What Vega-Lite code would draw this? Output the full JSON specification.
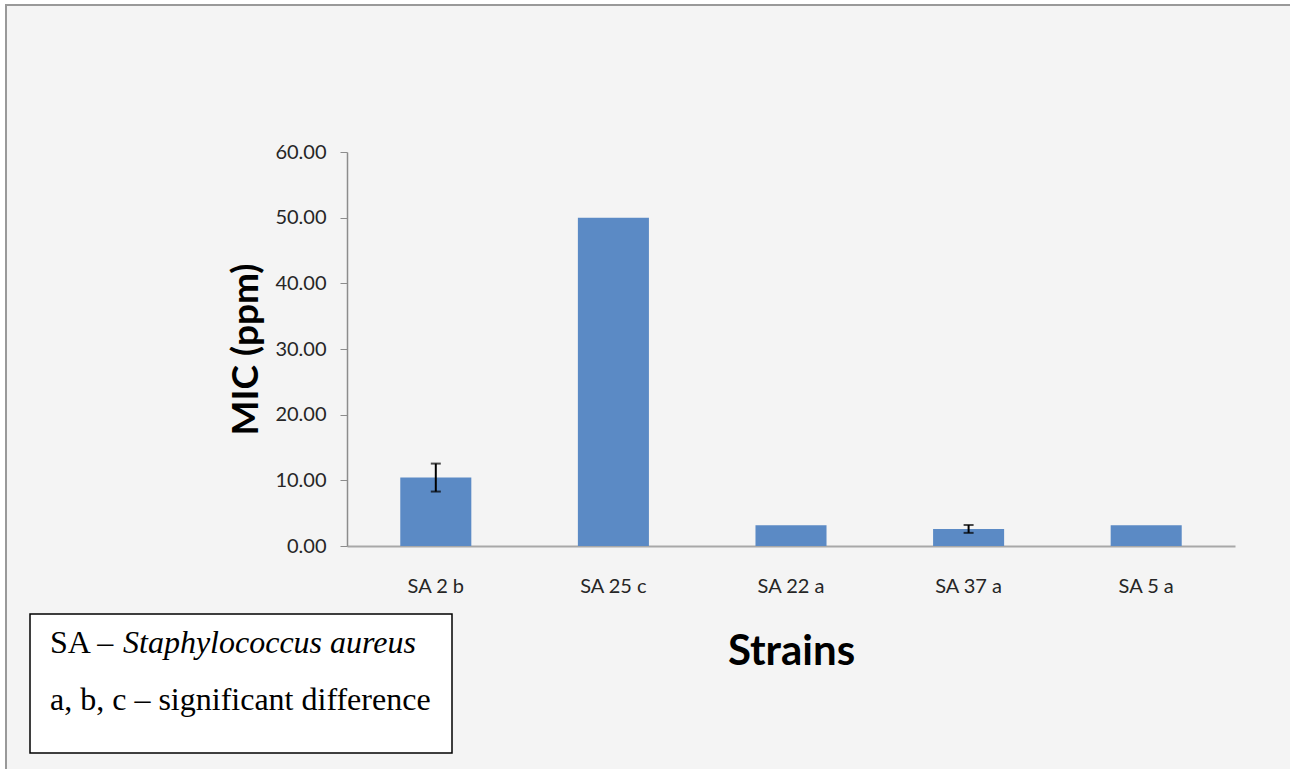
{
  "$schema": "https://vega.github.io/schema/vega-lite/v6.json",
  "autosize": "none",
  "width": 888,
  "height": 394,
  "padding": {"left": 347, "top": 152, "right": 55, "bottom": 223},
  "background": "#f4f4f4",
  "config": {
    "view": {"stroke": null, "fill": null},
    "font": "Lato"
  },
  "datasets": {
    "strains": [
      {"strain": "SA 2 b", "mic": 10.42, "lower": 8.29, "upper": 12.55},
      {"strain": "SA 25 c", "mic": 50.0, "lower": null, "upper": null},
      {"strain": "SA 22 a", "mic": 3.15, "lower": null, "upper": null},
      {"strain": "SA 37 a", "mic": 2.6, "lower": 2.0, "upper": 3.2},
      {"strain": "SA 5 a", "mic": 3.15, "lower": null, "upper": null}
    ],
    "notes": [
      {"line": 1, "plain": "SA \u2013 ", "italic": "Staphylococcus aureus"},
      {"line": 2, "plain": "a, b, c \u2013 significant difference", "italic": ""}
    ]
  },
  "layer": [
    {
      "data": {"values": [{"frame": "margin"}]},
      "mark": {"type": "rect", "fill": null, "stroke": "#ffffff", "strokeWidth": 10, "x": -347, "x2": 960, "y": -152, "y2": 640},
      "encoding": {}
    },
    {
      "data": {"values": [{"frame": "panel"}]},
      "mark": {"type": "rect", "fill": null, "stroke": "#999999", "strokeWidth": 2, "x": -341, "x2": 960, "y": -147, "y2": 640},
      "encoding": {}
    },
    {
      "data": {"name": "strains"},
      "mark": {"type": "bar", "color": "#5b8ac5"},
      "encoding": {
        "x": {
          "field": "strain",
          "type": "nominal",
          "sort": null,
          "scale": {"paddingInner": 0.6, "paddingOuter": 0.3},
          "axis": {
            "title": "Strains",
            "titleFont": "Lato",
            "titleFontSize": 42,
            "titleFontWeight": "bold",
            "titleColor": "#000000",
            "titleX": 444,
            "titleY": 118,
            "titleAlign": "center",
            "titleBaseline": "alphabetic",
            "labelAngle": 0,
            "labelFont": "Lato",
            "labelFontSize": 20,
            "labelColor": "#262626",
            "labelPadding": 30,
            "ticks": false,
            "domainColor": "#a8a8a8",
            "domainWidth": 2
          }
        },
        "y": {
          "field": "mic",
          "type": "quantitative",
          "scale": {"domain": [0, 60], "nice": false},
          "axis": {
            "values": [0, 10, 20, 30, 40, 50, 60],
            "format": ".2f",
            "grid": false,
            "title": "MIC (ppm)",
            "titleFont": "Lato",
            "titleFontSize": 37,
            "titleFontWeight": "bold",
            "titleColor": "#000000",
            "titleAngle": -90,
            "titleX": -90,
            "titleY": 197,
            "titleAlign": "center",
            "titleBaseline": "alphabetic",
            "labelFont": "Lato",
            "labelFontSize": 20,
            "labelColor": "#262626",
            "labelPadding": 14,
            "tickSize": 7,
            "tickColor": "#8c8c8c",
            "domainColor": "#8c8c8c",
            "domainWidth": 1.5
          }
        }
      }
    },
    {
      "data": {"name": "strains"},
      "transform": [{"filter": "datum.upper != null"}],
      "mark": {"type": "rule", "color": "#000000", "strokeWidth": 2},
      "encoding": {
        "x": {"field": "strain", "type": "nominal", "sort": null},
        "y": {"field": "lower", "type": "quantitative"},
        "y2": {"field": "upper"}
      }
    },
    {
      "data": {"name": "strains"},
      "transform": [{"filter": "datum.upper != null"}],
      "mark": {"type": "tick", "color": "#000000", "size": 10, "thickness": 2, "orient": "horizontal"},
      "encoding": {
        "x": {"field": "strain", "type": "nominal", "sort": null},
        "y": {"field": "upper", "type": "quantitative"}
      }
    },
    {
      "data": {"name": "strains"},
      "transform": [{"filter": "datum.lower != null"}],
      "mark": {"type": "tick", "color": "#000000", "size": 10, "thickness": 2, "orient": "horizontal"},
      "encoding": {
        "x": {"field": "strain", "type": "nominal", "sort": null},
        "y": {"field": "lower", "type": "quantitative"}
      }
    },
    {
      "data": {"values": [{"box": "key"}]},
      "mark": {"type": "rect", "fill": "#ffffff", "stroke": "#000000", "strokeWidth": 1.5, "x": -317, "x2": 105, "y": 462, "y2": 601},
      "encoding": {}
    },
    {
      "data": {"name": "notes"},
      "transform": [{"filter": "datum.line == 1"}],
      "mark": {"type": "text", "font": "Liberation Serif", "fontSize": 32, "color": "#000000", "align": "left", "baseline": "alphabetic", "x": -297, "y": 501},
      "encoding": {"text": {"field": "plain"}}
    },
    {
      "data": {"name": "notes"},
      "transform": [{"filter": "datum.line == 1"}],
      "mark": {"type": "text", "font": "Liberation Serif", "fontSize": 32, "fontStyle": "italic", "color": "#000000", "align": "left", "baseline": "alphabetic", "x": -224, "y": 501},
      "encoding": {"text": {"field": "italic"}}
    },
    {
      "data": {"name": "notes"},
      "transform": [{"filter": "datum.line == 2"}],
      "mark": {"type": "text", "font": "Liberation Serif", "fontSize": 32, "color": "#000000", "align": "left", "baseline": "alphabetic", "x": -297, "y": 558},
      "encoding": {"text": {"field": "plain"}}
    }
  ]
}
